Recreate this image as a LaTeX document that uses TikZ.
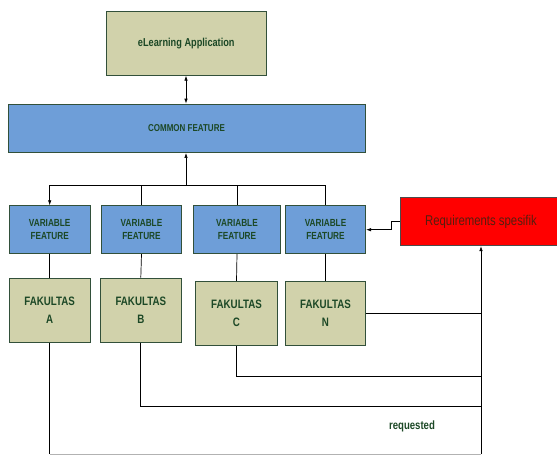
\documentclass[tikz,border=0pt]{standalone}
\usepackage{fontspec}
\setmainfont{Liberation Sans}[FakeStretch=0.8]
\usepackage{tikz}
\usetikzlibrary{arrows.meta}

\definecolor{khaki}{RGB}{209,210,171}
\definecolor{featblue}{RGB}{110,158,216}
\definecolor{reqred}{RGB}{255,0,0}
\definecolor{edgegreen}{RGB}{50,80,58}
\definecolor{txtgreen}{RGB}{28,72,38}
\definecolor{txtbrown}{RGB}{85,30,15}

\tikzset{
  box/.style={draw=edgegreen, line width=0.8pt, inner sep=0pt, align=center,
    text=txtgreen, font=\bfseries},
  appbox/.style={box, fill=khaki, minimum width=160pt, minimum height=64pt,
    font=\bfseries\fontsize{11.5}{14}\selectfont},
  commonbox/.style={box, fill=featblue, minimum width=357pt, minimum height=48.5pt,
    font=\bfseries\fontsize{10}{12}\selectfont},
  varbox/.style={box, fill=featblue, minimum width=81pt, minimum height=48pt,
    font=\bfseries\fontsize{10.3}{13.3}\selectfont},
  fakbox/.style={box, fill=khaki, minimum width=81pt, minimum height=64.4pt,
    font=\bfseries\fontsize{12.2}{17.7}\selectfont},
  reqbox/.style={box, fill=reqred, draw=black!70, text=txtbrown, minimum width=162pt,
    minimum height=48pt, font=\fontsize{14.2}{16}\selectfont},
  link/.style={draw=black, line width=0.7pt},
  tip/.style={link, -{Latex[length=5pt,width=3.5pt]}},
}

\begin{document}
\begin{tikzpicture}[x=1pt, y=-1pt]
\useasboundingbox (0,0) rectangle (557,455);

\node[appbox] (app) at (186.3,43.3) {eLearning Application};
\node[commonbox] (common) at (186.5,128.3) {COMMON FEATURE};

\node[varbox, minimum width=80.7pt] (varA) at (49.7,229.7) {VARIABLE\\FEATURE};
\node[varbox, minimum width=80.4pt] (varB) at (141.5,229.7) {VARIABLE\\FEATURE};
\node[varbox, minimum width=87.4pt] (varC) at (237,229.7) {VARIABLE\\FEATURE};
\node[varbox, minimum width=80.4pt] (varN) at (325.5,229.7) {VARIABLE\\FEATURE};

\node[fakbox, minimum width=80.7pt] (fakA) at (49.7,310.2) {FAKULTAS\\A};
\node[fakbox, minimum width=81.7pt] (fakB) at (140.8,310.2) {FAKULTAS\\B};
\node[fakbox, minimum width=82.4pt] (fakC) at (236.5,313.5) {FAKULTAS\\C};
\node[fakbox, minimum width=80.4pt] (fakN) at (325.5,313.5) {FAKULTAS\\N};

\node[reqbox] (req) at (481,221.7) {Requirements spesifik};
\node[text=txtgreen, font=\bfseries\fontsize{12}{14}\selectfont] (requested) at (412,426) {requested};

\coordinate (hub) at (186,185);
\coordinate (jC) at (481,376.7);
\coordinate (jB) at (481,406.7);
\coordinate (jA) at (481,454);

\draw[link, {Latex[length=5pt,width=3.5pt]}-{Latex[length=5pt,width=3.5pt]}] (app.south -| hub) -- (common.north -| hub);
\draw[tip] (hub) -- (common.south -| hub);
\draw[tip] (hub) -| (varA.north);
\draw[link] (hub) -| (varB.north);
\draw[link] (hub) -| (varC.north);
\draw[link] (hub) -| (varN.north);

\foreach \k in {A,B,C,N}
  \draw[link] (var\k.south) -- (fak\k.north);

\draw[tip] (req.west) -- ++(-8,0) |- (varN.east);
\draw[tip] (jA) -- (req.south);
\draw[link] (fakN.east) -- (fakN.east -| req.south);
\draw[link] (fakC.south) |- (jC);
\draw[link] (fakB.south) |- (jB);
\draw[link] (fakA.south) -- (fakA.south |- jA);
\draw[link, draw=black!30] (fakA.south |- jA) -- (jA);
\end{tikzpicture}
\end{document}
